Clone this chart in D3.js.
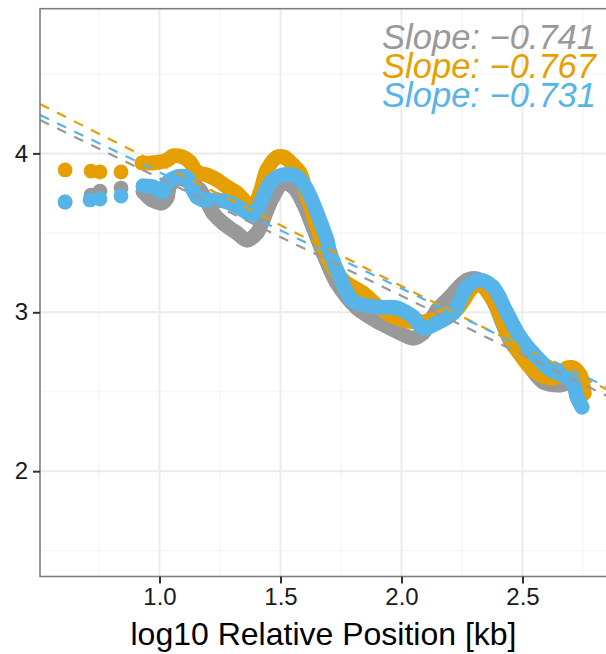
<!DOCTYPE html>
<html>
<head>
<meta charset="utf-8">
<script src="https://cdn.jsdelivr.net/npm/d3@7"></script>
<style>
  html, body { margin: 0; padding: 0; background: #fff; }
  svg { display: block; }
</style>
</head>
<body>
<svg id="chart" width="606" height="654"></svg>
<script>
// ---------------- DATA ----------------
const seriesNames = ["grey", "orange", "blue"];
const seriesColors = ["#999999", "#E69F00", "#56B4E9"];

const greyX = [0.610,0.717,0.754,0.841,0.932,0.969,1.010,1.031,1.043,1.072,1.110,1.167,1.221,1.262,1.320,1.362,1.403,1.428,1.469,1.510,1.552,1.593,1.634,1.676,1.733,1.816,1.911,1.994,2.048,2.089,2.147,2.200,2.271,2.324,2.378,2.448,2.519,2.585,2.655,2.700,2.738];
const greyY = [3.694,3.738,3.763,3.782,3.760,3.707,3.688,3.720,3.800,3.840,3.830,3.770,3.625,3.562,3.499,3.455,3.499,3.581,3.726,3.814,3.789,3.688,3.537,3.373,3.184,3.027,2.933,2.870,2.838,2.870,3.014,3.096,3.203,3.203,3.077,2.826,2.681,2.561,2.542,2.555,2.467];

const orangeX = [0.610,0.717,0.754,0.841,0.928,0.973,1.031,1.056,1.097,1.126,1.155,1.196,1.238,1.279,1.320,1.362,1.382,1.415,1.444,1.486,1.514,1.552,1.581,1.610,1.651,1.692,1.758,1.841,1.952,2.076,2.159,2.225,2.296,2.324,2.378,2.448,2.543,2.626,2.684,2.710,2.740,2.755];
const orangeY = [3.896,3.889,3.883,3.883,3.940,3.940,3.958,3.984,3.977,3.946,3.883,3.864,3.833,3.789,3.751,3.682,3.644,3.751,3.896,3.977,3.977,3.927,3.877,3.726,3.537,3.348,3.203,3.121,2.983,2.939,2.971,3.014,3.159,3.172,3.077,2.845,2.637,2.587,2.649,2.650,2.600,2.490];

const blueX = [0.610,0.713,0.754,0.841,0.932,0.973,1.014,1.031,1.072,1.110,1.138,1.155,1.180,1.238,1.291,1.345,1.386,1.428,1.457,1.510,1.568,1.610,1.651,1.692,1.705,1.746,1.800,1.899,1.981,2.048,2.089,2.147,2.214,2.271,2.324,2.378,2.436,2.490,2.543,2.614,2.684,2.709,2.725,2.746];
const blueY = [3.694,3.707,3.713,3.732,3.795,3.789,3.757,3.814,3.852,3.852,3.770,3.726,3.707,3.707,3.688,3.644,3.612,3.726,3.814,3.864,3.852,3.770,3.625,3.455,3.373,3.222,3.071,3.033,3.027,2.971,2.901,2.933,2.996,3.159,3.203,3.159,2.996,2.845,2.744,2.640,2.593,2.555,2.467,2.404];

const slopes = [-0.741, -0.767, -0.731];
const intercepts = [4.585, 4.699, 4.612];
const slopeLabels = ["Slope: \u22120.741", "Slope: \u22120.767", "Slope: \u22120.731"];

const xTicks = [1.0, 1.5, 2.0, 2.5];
const xTickLabels = ["1.0", "1.5", "2.0", "2.5"];
const xMinor = [0.75, 1.25, 1.75, 2.25, 2.75];
const yTicks = [2, 3, 4];
const yTickLabels = ["2", "3", "4"];
const yMinor = [1.5, 2.5, 3.5, 4.5];
const xTitle = "log10 Relative Position [kb]";

// ---------------- LAYOUT ----------------
const P = { left: 40, right: 607, top: 8.7, bottom: 576.5 };
const xDomain = [0.5062, 2.8492];
const yDomain = [1.3373, 4.9106];
const pointR = 7.4;
const denseFrom = 0.9;
const font = "'Liberation Sans', Arial, Helvetica, sans-serif";

const svg = d3.select("#chart");
const x = d3.scaleLinear().domain(xDomain).range([P.left, P.right]);
const y = d3.scaleLinear().domain(yDomain).range([P.bottom, P.top]);

svg.append("defs").append("clipPath").attr("id", "clip")
  .append("rect").attr("x", P.left).attr("y", P.top)
  .attr("width", P.right - P.left).attr("height", P.bottom - P.top);

// grid
const grid = svg.append("g");
grid.selectAll(".xmin").data(xMinor).join("line")
  .attr("x1", d => x(d)).attr("x2", d => x(d)).attr("y1", P.top).attr("y2", P.bottom)
  .attr("stroke", "#F4F4F4").attr("stroke-width", 1.1);
grid.selectAll(".ymin").data(yMinor).join("line")
  .attr("y1", d => y(d)).attr("y2", d => y(d)).attr("x1", P.left).attr("x2", P.right)
  .attr("stroke", "#F4F4F4").attr("stroke-width", 1.1);
grid.selectAll(".xmaj").data(xTicks).join("line")
  .attr("x1", d => x(d)).attr("x2", d => x(d)).attr("y1", P.top).attr("y2", P.bottom)
  .attr("stroke", "#EBEBEB").attr("stroke-width", 2);
grid.selectAll(".ymaj").data(yTicks).join("line")
  .attr("y1", d => y(d)).attr("y2", d => y(d)).attr("x1", P.left).attr("x2", P.right)
  .attr("stroke", "#EBEBEB").attr("stroke-width", 2);

// data
const series = [
  { xs: greyX, ys: greyY },
  { xs: orangeX, ys: orangeY },
  { xs: blueX, ys: blueY }
];
const plot = svg.append("g").attr("clip-path", "url(#clip)");
const line = d3.line().x(d => x(d[0])).y(d => y(d[1])).curve(d3.curveCatmullRom.alpha(0.5));

series.forEach((s, i) => {
  const pts = s.xs.map((v, k) => [v, s.ys[k]]);
  const dense = pts.filter(p => p[0] >= denseFrom);
  const g = plot.append("g");
  g.append("path").datum(dense).attr("d", line)
    .attr("fill", "none").attr("stroke", seriesColors[i])
    .attr("stroke-width", pointR * 2).attr("stroke-linecap", "round").attr("stroke-linejoin", "round");
  g.selectAll("circle").data(pts).join("circle")
    .attr("cx", d => x(d[0])).attr("cy", d => y(d[1])).attr("r", pointR)
    .attr("fill", seriesColors[i]);
});

// regression lines
series.forEach((s, i) => {
  const ends = [xDomain[0], xDomain[1]];
  plot.append("line")
    .attr("x1", x(ends[0])).attr("y1", y(intercepts[i] + slopes[i] * ends[0]))
    .attr("x2", x(ends[1])).attr("y2", y(intercepts[i] + slopes[i] * ends[1]))
    .attr("stroke", seriesColors[i]).attr("stroke-width", 2.2)
    .attr("stroke-dasharray", "10,9");
});

// slope labels
const labY = [49, 78, 107];
slopeLabels.forEach((t, i) => {
  svg.append("text").attr("x", 596).attr("y", labY[i])
    .attr("text-anchor", "end")
    .attr("font-family", font)
    .attr("font-style", "italic").attr("font-size", 34.5)
    .attr("fill", seriesColors[i]).text(t);
});

// panel border
svg.append("rect").attr("x", P.left).attr("y", P.top)
  .attr("width", P.right - P.left).attr("height", P.bottom - P.top)
  .attr("fill", "none").attr("stroke", "#7F7F7F").attr("stroke-width", 1.6);

// axes
const xAxis = d3.axisBottom(x).tickValues(xTicks).tickFormat((d, i) => xTickLabels[i]).tickSize(7).tickPadding(4);
const gx = svg.append("g").attr("transform", `translate(0,${P.bottom})`).call(xAxis);
gx.select(".domain").remove();
gx.selectAll(".tick line").attr("stroke", "#333").attr("stroke-width", 2);
gx.selectAll(".tick text").attr("font-family", font).attr("font-size", 24).attr("fill", "#1a1a1a");

const yAxis = d3.axisLeft(y).tickValues(yTicks).tickFormat((d, i) => yTickLabels[i]).tickSize(7).tickPadding(5);
const gy = svg.append("g").attr("transform", `translate(${P.left},0)`).call(yAxis);
gy.select(".domain").remove();
gy.selectAll(".tick line").attr("stroke", "#333").attr("stroke-width", 2);
gy.selectAll(".tick text").attr("font-family", font).attr("font-size", 24).attr("fill", "#1a1a1a");

svg.append("text").attr("x", (P.left + P.right) / 2).attr("y", 645)
  .attr("text-anchor", "middle").attr("font-family", font).attr("font-size", 32)
  .attr("fill", "#000").text(xTitle);
</script>
</body>
</html>
